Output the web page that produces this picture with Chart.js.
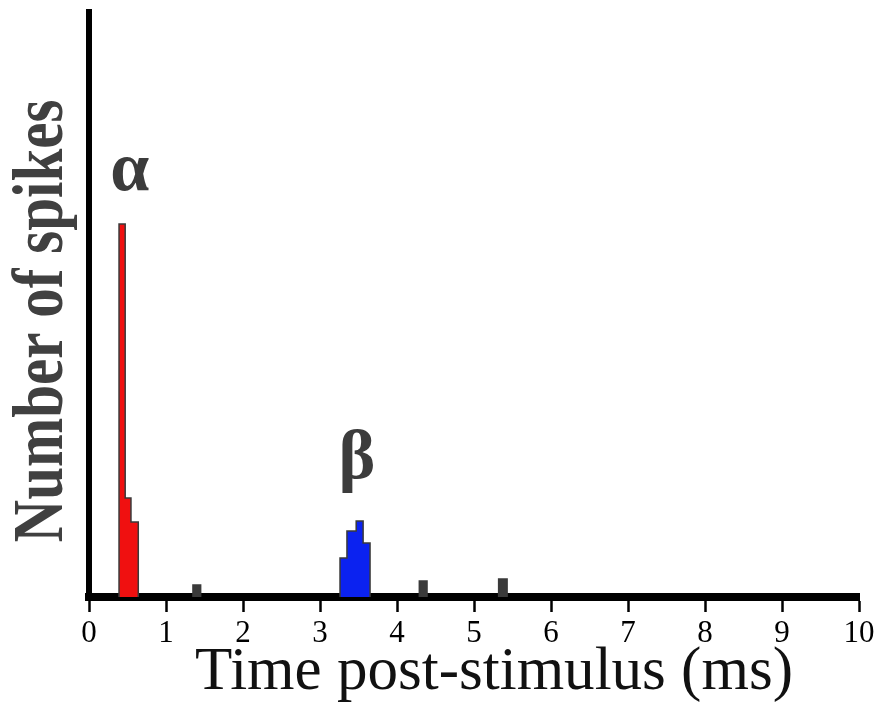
<!DOCTYPE html>
<html>
<head>
<meta charset="utf-8">
<script src="https://cdn.jsdelivr.net/npm/chart.js@4/dist/chart.umd.min.js"></script>
<style>
  html, body { margin: 0; padding: 0; background: #ffffff; }
  #wrap { width: 889px; height: 710px; }
</style>
</head>
<body>
<div id="wrap"><canvas id="c" width="889" height="710"></canvas></div>
<script>
// ---- data (bins in ms, counts in arbitrary spike units) ----
const alphaStarts = [0.39, 0.47, 0.545];
const alphaEnds   = [0.47, 0.545, 0.64];
const alphaCounts = [74.6, 19.8, 15.0];

const betaStarts = [3.26, 3.35, 3.47, 3.56];
const betaEnds   = [3.35, 3.47, 3.56, 3.65];
const betaCounts = [7.8, 13.2, 15.2, 10.8];

const otherStarts = [1.35, 4.29, 5.32];
const otherEnds   = [1.45, 4.39, 5.43];
const otherCounts = [2.4, 3.2, 3.6];

const xTicks = [0, 1, 2, 3, 4, 5, 6, 7, 8, 9, 10];
const yMax = 117;

const peakLabels = ['α', 'β'];
const peakLabelX = [0.53, 3.48];
const peakLabelY = [81.5, 23.8];

const xTitle = 'Time post-stimulus (ms)';
const yTitle = 'Number of spikes';

// build stepped histogram outline points from contiguous bins
function histPoints(starts, ends, counts) {
  const pts = [{x: starts[0], y: 0}];
  for (let i = 0; i < starts.length; i++) {
    pts.push({x: starts[i], y: counts[i]});
  }
  pts.push({x: ends[ends.length - 1], y: 0});
  return pts;
}

function histDataset(starts, ends, counts, fillColor) {
  return {
    data: histPoints(starts, ends, counts),
    stepped: 'before',
    fill: 'origin',
    backgroundColor: fillColor,
    borderColor: '#3a3a3a',
    borderWidth: 1.5,
    pointRadius: 0,
    tension: 0
  };
}

const otherDatasets = otherStarts.map((s, i) =>
  histDataset([s], [otherEnds[i]], [otherCounts[i]], '#3a3a3a'));

const textPlugin = {
  id: 'textPlugin',
  afterDraw(chart) {
    const ctx = chart.ctx;
    const xs = chart.scales.x, ys = chart.scales.y;
    ctx.save();
    // peak labels
    ctx.fillStyle = '#3c3c3c';
    ctx.font = 'bold 70px "Liberation Serif", "DejaVu Serif", serif';
    ctx.textAlign = 'center';
    ctx.textBaseline = 'alphabetic';
    for (let i = 0; i < peakLabels.length; i++) {
      ctx.fillText(peakLabels[i], xs.getPixelForValue(peakLabelX[i]), ys.getPixelForValue(peakLabelY[i]));
    }
    // x title
    ctx.fillStyle = '#111111';
    ctx.font = '62px "Liberation Serif", "DejaVu Serif", serif';
    let w = ctx.measureText(xTitle).width;
    let target = 598;
    ctx.save();
    ctx.translate(494, 689);
    ctx.scale(target / w, 1);
    ctx.fillText(xTitle, 0, 0);
    ctx.restore();
    // y title
    ctx.fillStyle = '#404040';
    ctx.font = 'bold 72px "Liberation Serif", "DejaVu Serif", serif';
    w = ctx.measureText(yTitle).width;
    target = 443;
    ctx.save();
    ctx.translate(62, 321);
    ctx.rotate(-Math.PI / 2);
    ctx.scale(target / w, 1);
    ctx.fillText(yTitle, 0, 0);
    ctx.restore();
    ctx.restore();
  }
};

new Chart(document.getElementById('c'), {
  type: 'line',
  data: {
    datasets: [
      ...otherDatasets,
      histDataset(alphaStarts, alphaEnds, alphaCounts, '#f01010'),
      histDataset(betaStarts, betaEnds, betaCounts, '#0b22f0')
    ]
  },
  options: {
    responsive: false,
    animation: false,
    layout: { padding: { left: 0, right: 30, top: 12, bottom: 0 } },
    plugins: { legend: { display: false }, tooltip: { enabled: false } },
    scales: {
      x: {
        type: 'linear',
        min: 0, max: 10,
        afterBuildTicks: s => { s.ticks = xTicks.map(v => ({value: v})); },
        afterFit: s => { s.height = 113; },
        ticks: {
          color: '#000000',
          font: { family: '"Liberation Serif", "DejaVu Serif", serif', size: 31 },
          padding: 3,
          maxRotation: 0,
          autoSkip: false
        },
        grid: {
          display: true,
          drawOnChartArea: false,
          drawTicks: true,
          tickLength: 15,
          tickWidth: 2.5,
          tickColor: '#000000',
          color: '#000000'
        },
        border: { display: true, color: '#000000', width: 8 }
      },
      y: {
        type: 'linear',
        min: 0, max: yMax,
        afterFit: s => { s.width = 89; },
        ticks: { display: false },
        grid: { display: true, drawOnChartArea: false, drawTicks: false, color: 'rgba(0,0,0,0)' },
        border: { display: true, color: '#000000', width: 6 }
      }
    }
  },
  plugins: [textPlugin]
});
</script>
</body>
</html>
